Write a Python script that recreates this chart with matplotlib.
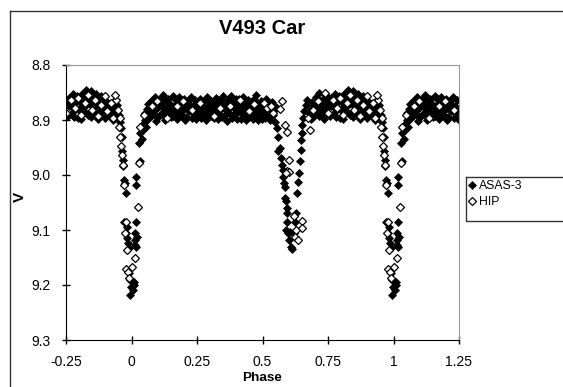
import numpy as np
import matplotlib.pyplot as plt
from matplotlib.lines import Line2D

plt.rcParams['font.family'] = ['Liberation Sans', 'DejaVu Sans']

# ASAS-3 photometry (phase 0..1, V mag)
asas_phase = [
    0.040, 0.043, 0.046, 0.050, 0.052, 0.056, 0.058, 0.061, 0.064, 0.067,
    0.071, 0.073, 0.078, 0.080, 0.084, 0.089, 0.091, 0.096, 0.099, 0.102,
    0.108, 0.111, 0.114, 0.120, 0.123, 0.128, 0.131, 0.134, 0.141, 0.144,
    0.147, 0.153, 0.157, 0.160, 0.166, 0.169, 0.175, 0.178, 0.182, 0.188,
    0.191, 0.197, 0.200, 0.206, 0.209, 0.214, 0.218, 0.224, 0.227, 0.233,
    0.236, 0.242, 0.245, 0.251, 0.254, 0.260, 0.263, 0.268, 0.272, 0.278,
    0.281, 0.287, 0.290, 0.296, 0.299, 0.305, 0.308, 0.314, 0.317, 0.323,
    0.326, 0.332, 0.335, 0.341, 0.344, 0.350, 0.353, 0.359, 0.362, 0.368,
    0.371, 0.377, 0.380, 0.386, 0.389, 0.395, 0.398, 0.404, 0.407, 0.413,
    0.416, 0.422, 0.425, 0.431, 0.434, 0.440, 0.443, 0.449, 0.452, 0.458,
    0.461, 0.467, 0.470, 0.476, 0.479, 0.485, 0.488, 0.494, 0.497, 0.503,
    0.506, 0.512, 0.515, 0.521, 0.524, 0.530, 0.533, 0.535, 0.539, 0.544,
    0.548, 0.552, 0.555, 0.561, 0.565, 0.561, 0.570, 0.574, 0.577, 0.580,
    0.583, 0.586, 0.586, 0.590, 0.593, 0.595, 0.593, 0.590, 0.599, 0.603,
    0.608, 0.612, 0.605, 0.621, 0.624, 0.628, 0.633, 0.637, 0.640, 0.643,
    0.646, 0.647, 0.650, 0.652, 0.656, 0.660, 0.666, 0.671, 0.679, 0.684,
    0.689, 0.693, 0.698, 0.703, 0.707, 0.712, 0.716, 0.721, 0.726, 0.730,
    0.735, 0.740, 0.744, 0.749, 0.754, 0.758, 0.763, 0.768, 0.772, 0.777,
    0.782, 0.786, 0.791, 0.796, 0.800, 0.805, 0.810, 0.814, 0.819, 0.824,
    0.828, 0.833, 0.838, 0.842, 0.847, 0.852, 0.856, 0.861, 0.866, 0.870,
    0.875, 0.880, 0.884, 0.889, 0.894, 0.898, 0.903, 0.908, 0.912, 0.917,
    0.922, 0.926, 0.931, 0.936, 0.940, 0.945, 0.948, 0.952, 0.958, 0.961,
    0.964, 0.964, 0.967, 0.968, 0.971, 0.977, 0.980, 0.973, 0.981, 0.978,
    0.984, 0.987, 0.990, 0.990, 0.994, 0.999, 0.996, 0.006, 0.009, 0.011,
    0.015, 0.015, 0.018, 0.013, 0.022, 0.019, 0.016, 0.019, 0.034, 0.028,
    0.032, 0.037,
    0.062, 0.076, 0.093, 0.105, 0.117, 0.126, 0.138, 0.150, 0.163, 0.172,
    0.185, 0.194, 0.203, 0.216, 0.230, 0.239, 0.248, 0.257, 0.266, 0.275,
    0.284, 0.293, 0.302, 0.311, 0.320, 0.329, 0.338, 0.347, 0.356, 0.365,
    0.374, 0.383, 0.392, 0.401, 0.410, 0.419, 0.428, 0.437, 0.446, 0.455,
    0.464, 0.473, 0.482, 0.491, 0.500, 0.509, 0.518, 0.527, 0.542,
    0.687, 0.696, 0.705, 0.714, 0.724, 0.733, 0.742, 0.751, 0.761, 0.770,
    0.779, 0.788, 0.798, 0.807, 0.817, 0.826, 0.835, 0.845, 0.854, 0.863,
    0.873, 0.882, 0.891, 0.900, 0.910, 0.919, 0.928, 0.934, 0.943,
]
asas_v = [
    8.935, 8.918, 8.905, 8.900, 8.888, 8.912, 8.897, 8.880, 8.870, 8.893,
    8.884, 8.865, 8.876, 8.890, 8.872, 8.858, 8.881, 8.895, 8.868, 8.877,
    8.862, 8.889, 8.874, 8.855, 8.883, 8.866, 8.897, 8.878, 8.861, 8.887,
    8.870, 8.880, 8.857, 8.893, 8.872, 8.864, 8.885, 8.876, 8.859, 8.890,
    8.869, 8.881, 8.862, 8.877, 8.895, 8.866, 8.883, 8.872, 8.858, 8.888,
    8.875, 8.864, 8.884, 8.870, 8.893, 8.878, 8.861, 8.874, 8.887, 8.866,
    8.880, 8.858, 8.891, 8.872, 8.883, 8.865, 8.877, 8.896, 8.869, 8.860,
    8.884, 8.874, 8.889, 8.863, 8.878, 8.856, 8.893, 8.871, 8.882, 8.864,
    8.887, 8.876, 8.857, 8.891, 8.868, 8.880, 8.862, 8.898, 8.873, 8.885,
    8.866, 8.879, 8.859, 8.890, 8.871, 8.883, 8.864, 8.895, 8.876, 8.868,
    8.886, 8.861, 8.879, 8.854, 8.891, 8.872, 8.883, 8.866, 8.898, 8.875,
    8.887, 8.862, 8.880, 8.870, 8.893, 8.876, 8.884, 8.868, 8.890, 8.881,
    8.903, 8.876, 8.915, 8.930, 8.951, 8.957, 8.969, 8.981, 8.991, 9.003,
    9.015, 9.021, 9.042, 9.048, 9.060, 9.069, 9.085, 9.100, 9.106, 9.118,
    9.130, 9.135, 9.103, 9.106, 9.085, 9.069, 9.032, 9.012, 8.997, 8.975,
    8.954, 8.936, 8.924, 8.909, 8.896, 8.884, 8.872, 8.863, 8.887, 8.880,
    8.867, 8.895, 8.873, 8.858, 8.886, 8.864, 8.850, 8.878, 8.891, 8.862,
    8.871, 8.884, 8.855, 8.877, 8.866, 8.893, 8.860, 8.874, 8.887, 8.852,
    8.869, 8.880, 8.857, 8.897, 8.866, 8.878, 8.853, 8.885, 8.862, 8.874,
    8.846, 8.890, 8.859, 8.870, 8.848, 8.883, 8.861, 8.875, 8.852, 8.889,
    8.866, 8.878, 8.857, 8.871, 8.891, 8.863, 8.880, 8.869, 8.886, 8.874,
    8.895, 8.879, 8.900, 8.884, 8.892, 8.880, 8.893, 8.890, 8.903, 8.915,
    8.930, 8.957, 8.972, 8.984, 9.009, 9.014, 9.032, 9.086, 9.094, 9.106,
    9.115, 9.124, 9.133, 9.179, 9.191, 9.203, 9.218, 9.209, 9.200, 9.194,
    9.106, 9.118, 9.130, 9.127, 9.112, 9.085, 9.018, 9.003, 8.975, 8.942,
    8.924, 8.912,
    8.899, 8.886, 8.902, 8.893, 8.870, 8.900, 8.884, 8.895, 8.880, 8.899,
    8.870, 8.893, 8.900, 8.877, 8.897, 8.882, 8.899, 8.866, 8.896, 8.880,
    8.900, 8.864, 8.893, 8.871, 8.886, 8.899, 8.870, 8.895, 8.880, 8.901,
    8.866, 8.897, 8.874, 8.886, 8.861, 8.898, 8.879, 8.900, 8.873, 8.890,
    8.899, 8.869, 8.900, 8.878, 8.890, 8.897, 8.865, 8.900, 8.880,
    8.898, 8.885, 8.872, 8.893, 8.869, 8.898, 8.864, 8.888, 8.874, 8.861,
    8.895, 8.868, 8.882, 8.899, 8.871, 8.888, 8.866, 8.894, 8.874, 8.857,
    8.899, 8.884, 8.862, 8.897, 8.876, 8.887, 8.868, 8.897, 8.872,
]

# Hipparcos photometry
hip_phase = [
    0.939, 0.948, 0.956, 0.952, 0.958, 0.961, 0.964, 0.967, 0.971, 0.978,
    0.976, 0.984, 0.979, 0.987, 0.991, 0.000, 0.015, 0.024, 0.028, 0.034,
    0.574, 0.567, 0.584, 0.595, 0.600, 0.593, 0.603, 0.590, 0.621, 0.628,
    0.623, 0.635, 0.650, 0.652, 0.681, 0.675,
    0.047, 0.079, 0.098, 0.136, 0.174, 0.197, 0.231, 0.263, 0.313, 0.339,
    0.377, 0.415, 0.447, 0.466, 0.504, 0.516, 0.532, 0.539,
    0.694, 0.713, 0.739, 0.751, 0.770, 0.783, 0.796, 0.808, 0.821, 0.834,
    0.849, 0.859, 0.872, 0.885, 0.897, 0.907, 0.920, 0.929, 0.938,
]
hip_v = [
    8.863, 8.881, 8.896, 8.912, 8.930, 8.948, 8.963, 8.981, 9.018, 9.086,
    9.106, 9.136, 9.170, 9.176, 9.188, 9.167, 9.150, 9.058, 8.978, 8.913,
    8.865, 8.880, 8.909, 8.921, 8.972, 8.992, 8.994, 8.997, 9.075, 9.100,
    9.112, 9.118, 9.083, 9.097, 8.918, 8.897,
    8.890, 8.875, 8.866, 8.896, 8.875, 8.866, 8.881, 8.869, 8.893, 8.878,
    8.874, 8.863, 8.884, 8.870, 8.869, 8.878, 8.874, 8.887,
    8.881, 8.866, 8.850, 8.887, 8.863, 8.878, 8.860, 8.890, 8.869, 8.854,
    8.881, 8.863, 8.893, 8.872, 8.857, 8.884, 8.869, 8.896, 8.854,
]

xticks = [-0.25, 0, 0.25, 0.5, 0.75, 1, 1.25]
xticklabels = ['-0.25', '0', '0.25', '0.5', '0.75', '1', '1.25']
yticks = [8.8, 8.9, 9.0, 9.1, 9.2, 9.3]


def extend(phase, mag):
    # repeat the cycle so the plot covers -0.25 .. 1.25
    p = np.array(phase)
    m = np.array(mag)
    lo = p - 1 >= -0.25
    hi = p + 1 <= 1.25
    return (np.concatenate([p[lo] - 1, p, p[hi] + 1]),
            np.concatenate([m[lo], m, m[hi]]))


fig = plt.figure(figsize=(5.63, 3.87), dpi=100)
ax = fig.add_axes([66 / 563, 1 - 340 / 387, 393 / 563, 275 / 387])

ap, av = extend(asas_phase, asas_v)
hp, hv = extend(hip_phase, hip_v)
ax.plot(ap, av, 'D', ms=4.2, mfc='black', mec='black', mew=0.5, label='ASAS-3')
ax.plot(hp, hv, 'D', ms=3.6, mfc='white', mec='black', mew=0.9, label='HIP')

ax.set_xlim(-0.25, 1.25)
ax.set_ylim(9.3, 8.8)
ax.set_xticks(xticks)
ax.set_xticklabels(xticklabels)
ax.set_yticks(yticks)
ax.set_yticklabels([f'{t:.1f}' for t in yticks])
ax.tick_params(direction='inout', length=6, width=1, labelsize=10, pad=7)
ax.tick_params(axis='x', pad=8)
ax.tick_params(axis='y', pad=8)
ax.spines['top'].set_color('#999999')
ax.spines['right'].set_color('#999999')

fig.text(262 / 563, 1 - 28 / 387, 'V493 Car', ha='center', va='center',
         fontsize=14.5, fontweight='bold')
fig.text(262 / 563, 1 - 378 / 387, 'Phase', ha='center', va='center',
         fontsize=9.7, fontweight='bold')
fig.text(20 / 563, 1 - 197 / 387, 'V', ha='center', va='center',
         rotation=90, fontsize=11, fontweight='bold')

# chart area border (cut off at right and bottom)
bx, by = 9.5 / 563, 1 - 10.5 / 387
fig.add_artist(Line2D([bx, bx], [0, by], color='#333333', lw=1))
fig.add_artist(Line2D([bx, 1], [by, by], color='#333333', lw=1))

# legend box
lx, ly0, ly1 = 465.5 / 563, 1 - 221 / 387, 1 - 177 / 387
fig.add_artist(Line2D([lx, lx, 1], [ly1, ly0, ly0], color='#333333', lw=1))
fig.add_artist(Line2D([lx, 1], [ly1, ly1], color='#333333', lw=1))
fig.legend(loc='upper left', bbox_to_anchor=(467 / 563, 1 - 178 / 387),
           frameon=False, fontsize=8.8, handlelength=0.5, handletextpad=0.3,
           borderpad=0.15, labelspacing=0.35, borderaxespad=0)

fig.savefig('out.png', dpi=100)
